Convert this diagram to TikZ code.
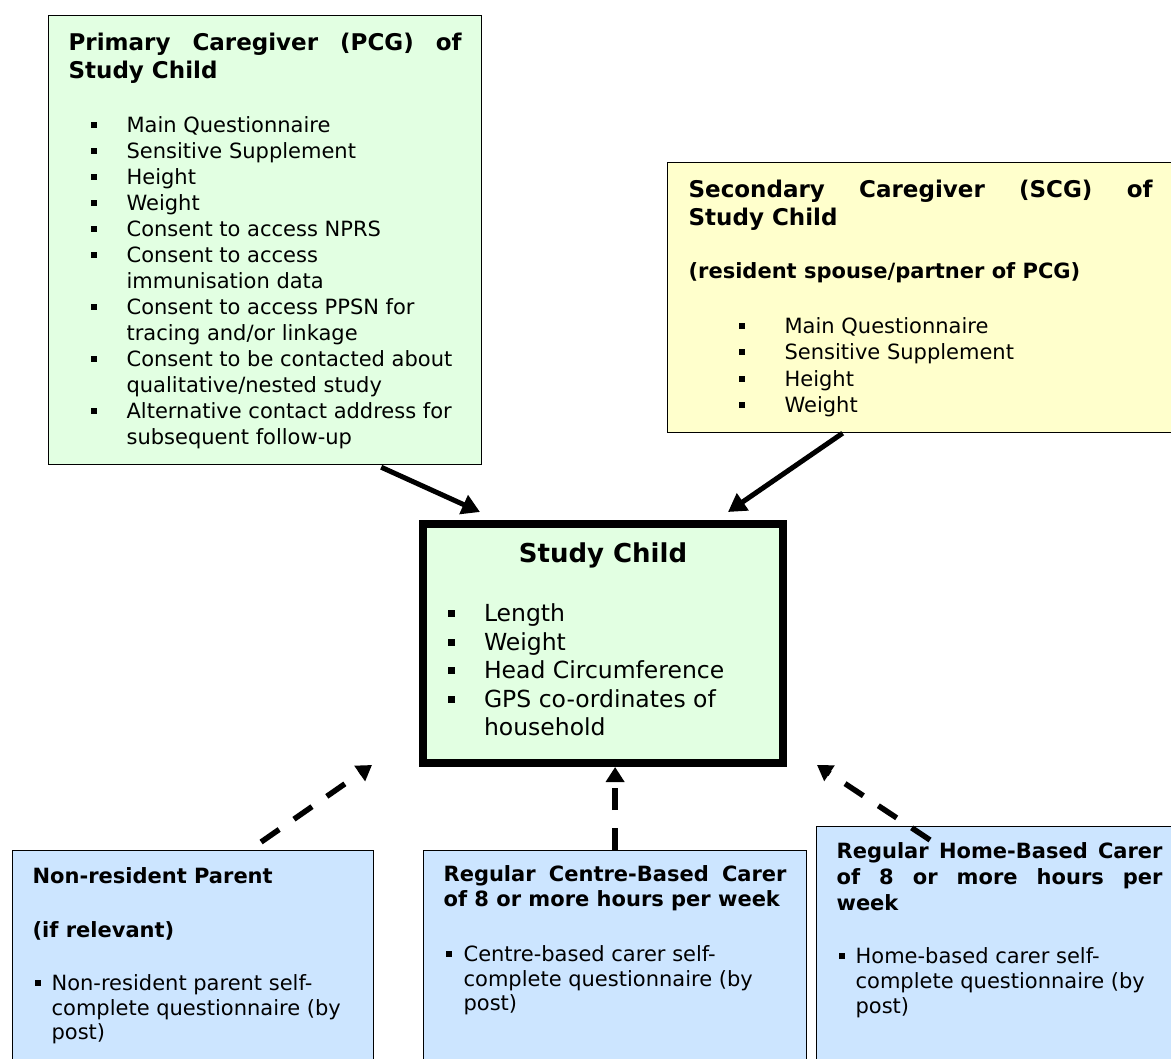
\documentclass[tikz,border=0pt]{standalone}
\usepackage{fontspec}
\setmainfont{DejaVu Sans}
\usepackage{xcolor}
\usetikzlibrary{arrows.meta, positioning}

\definecolor{pcggreen}{RGB}{226,255,226}
\definecolor{scgyellow}{RGB}{255,255,204}
\definecolor{carerblue}{RGB}{204,229,255}

% square bullets and fixed size box contents
\newcommand{\sqbullet}{\rule[0.2em]{0.3em}{0.3em}}
\newcommand{\boxbody}[3]{\begin{minipage}[t][#2][t]{#1}#3\end{minipage}}
\newenvironment{sqlist}[2]{%
	\begin{list}{\rlap{\sqbullet}}{\setlength{\leftmargin}{#1}\setlength{\labelsep}{#2}%
		\setlength{\labelwidth}{0pt}\setlength{\itemsep}{0pt}\setlength{\parsep}{0pt}%
		\setlength{\topsep}{0pt}\setlength{\partopsep}{0pt}}\raggedright}{\end{list}}

\tikzset{
	x=1pt, y=-1pt, % one unit is one pixel of the layout, y runs downwards
	infobox/.style={draw, line width=1.2pt, anchor=north west, inner xsep=20pt, inner ysep=0pt},
	caregiver/.style={infobox, fill=pcggreen},
	partner/.style={infobox, fill=scgyellow, inner xsep=21pt},
	carer/.style={infobox, fill=carerblue},
	child/.style={infobox, fill=pcggreen, line width=8pt, inner xsep=17pt},
	feed/.style={line width=5pt, -{Triangle[length=18pt, width=20pt]}},
	maybe/.style={line width=5.5pt, dash pattern=on 22pt off 18pt, -{Triangle[length=15pt, width=18pt]}},
}

\begin{document}
\begin{tikzpicture}
		\useasboundingbox (0,0) rectangle (1171,1059);

		% Define the boxes
		\node[caregiver] (pcg) at (48,15) {\boxbody{393pt}{449pt}{%
			\vspace*{17.5pt}
			{\fontsize{23}{28}\selectfont\bfseries Primary Caregiver (PCG) of\linebreak Study Child\par}
			\vspace{28pt}
			\fontsize{21}{26}\selectfont
			\begin{sqlist}{58pt}{36pt}
				\item Main Questionnaire
				\item Sensitive Supplement
				\item Height
				\item Weight
				\item Consent to access NPRS
				\item Consent to access\\immunisation data
				\item Consent to access PPSN for\\tracing and/or linkage
				\item Consent to be contacted about\\qualitative/nested study
				\item Alternative contact address for\\subsequent follow-up
			\end{sqlist}}};

		\node[partner] (scg) at (667,162) {\boxbody{464pt}{270pt}{%
			\vspace*{17.5pt}
			{\fontsize{23}{28}\selectfont\bfseries Secondary Caregiver (SCG) of\linebreak Study Child\par}
			\vspace{27pt}
			{\fontsize{21}{26}\selectfont\bfseries (resident spouse/partner of PCG)\par}
			\vspace{28pt}
			\fontsize{21}{26.5}\selectfont
			\begin{sqlist}{96pt}{46pt}
				\item Main Questionnaire
				\item Sensitive Supplement
				\item Height
				\item Weight
			\end{sqlist}}};

		\node[child] (child) at (419,520) {\boxbody{326pt}{239pt}{%
			\vspace*{19.2pt}
			{\centering\fontsize{26}{30}\selectfont\bfseries Study Child\par}
			\vspace{30.5pt}
			\fontsize{23.5}{28.5}\selectfont
			\begin{sqlist}{44pt}{36pt}
				\item Length
				\item Weight
				\item Head Circumference
				\item GPS co-ordinates of\\household
			\end{sqlist}}};

		\node[carer] (nonres) at (12,850) {\boxbody{321pt}{260pt}{%
			\vspace*{17pt}
			{\fontsize{21}{26}\selectfont\bfseries Non-resident Parent\par}
			\vspace{28pt}
			{\fontsize{21}{26}\selectfont\bfseries (if relevant)\par}
			\vspace{28.5pt}
			\fontsize{21}{24.5}\selectfont
			\begin{sqlist}{19pt}{17pt}
				\item Non-resident parent self-\\complete questionnaire (by\\post)
			\end{sqlist}}};

		\node[carer] (centre) at (423,850) {\boxbody{343pt}{260pt}{%
			\vspace*{15pt}
			{\fontsize{21}{25}\selectfont\bfseries Regular Centre-Based Carer\linebreak of 8 or more hours per week\par}
			\vspace{30.5pt}
			\fontsize{21}{24.5}\selectfont
			\begin{sqlist}{20pt}{18pt}
				\item Centre-based carer self-\\complete questionnaire (by\\post)
			\end{sqlist}}};

		\node[carer] (home) at (816,826) {\boxbody{326pt}{280pt}{%
			\vspace*{16pt}
			{\fontsize{21}{26}\selectfont\bfseries Regular Home-Based Carer\linebreak of 8 or more hours per\linebreak week\par}
			\vspace{27.5pt}
			\fontsize{21}{25}\selectfont
			\begin{sqlist}{19pt}{17pt}
				\item Home-based carer self-\\complete questionnaire (by\\post)
			\end{sqlist}}};

		% Arrows into the study child
		\draw[feed] ([xshift=-101pt, yshift=-2pt]pcg.south east) -- ([xshift=61pt, yshift=8pt]child.north west);
		\draw[feed] ([xshift=-78pt]scg.south) -- ([xshift=-59pt, yshift=8pt]child.north east);
		\draw[maybe] ([xshift=68pt, yshift=8pt]nonres.north) -- ([xshift=-47pt, yshift=2pt]child.south west);
		\draw[maybe] (centre.north) -- (centre.north |- child.south);
		\draw[maybe] ([xshift=114pt, yshift=-14pt]home.north west) -- ([xshift=30pt, yshift=2pt]child.south east);
	\end{tikzpicture}
\end{document}
